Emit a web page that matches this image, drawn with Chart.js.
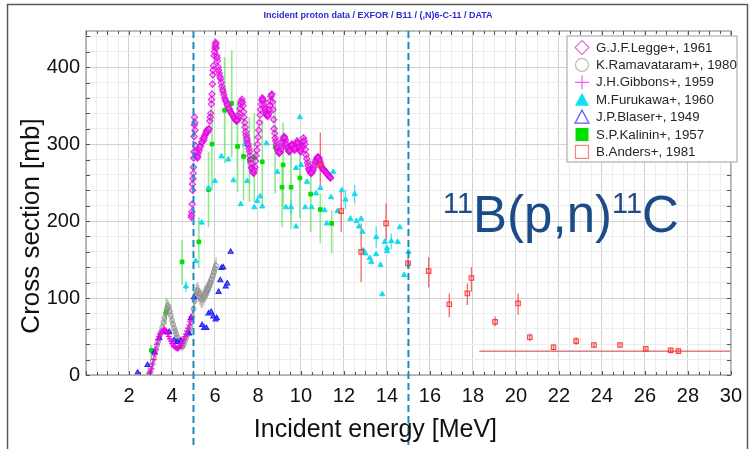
<!DOCTYPE html>
<html>
<head>
<meta charset="utf-8">
<script src="https://cdn.jsdelivr.net/npm/chart.js@4.4.1/dist/chart.umd.min.js"></script>
<style>
  html, body { margin: 0; padding: 0; background: #fff; }
  canvas { display: block; }
</style>
</head>
<body>
<canvas id="c" width="751" height="449" style="width:751px;height:449px"></canvas>
<script>
// ---- 11B(p,n)11C excitation function: EXFOR data sets ----

// G.J.F.Legge+, 1961
const leggeE = [4.90,4.92,4.94,4.96,4.98,5.00,5.02,5.03,5.04,5.05,5.07,5.10,5.14,5.18,5.22,5.27,5.32,5.38,5.43,5.48,5.52,5.57,5.62,5.67,5.72,5.76,5.80,5.83,5.86,5.88,5.90,5.93,5.96,6.00,6.03,6.06,6.08,6.11,6.15,6.20,6.26,6.32,6.38,6.45,6.52,6.60,6.68,6.76,6.84,6.92,7.00,7.08,7.14,7.20,7.25,7.30,7.35,7.40,7.45,7.50,7.55,7.60,7.65,7.70,7.75,7.80,7.86,7.92,7.98,8.04,8.10,8.15,8.20,8.25,8.30,8.35,8.40,8.45,8.50,8.55,8.60,8.65,8.70,8.75,8.80,8.86,8.92,8.98,9.04,9.10,9.16,9.22,9.28,9.34,9.40,9.46,9.52,9.58,9.64,9.70,9.76,9.82,9.88,9.94,10.00,10.06,10.12,10.18,10.24,10.30,10.36,10.42,10.48,10.54,10.60,10.66,10.72,10.78,10.84,10.90,10.96,11.02,11.08,11.14,11.20,11.26,11.32,11.38,
  4.91,4.95,4.99,5.01,5.06,5.12,5.20,5.30,5.40,5.50,5.60,5.70,5.78,5.84,5.91,5.98,6.01,6.04,6.10,6.17,6.23,6.29,6.35,6.42,6.49,6.56,6.64,6.72,6.80,6.88,6.96,7.04,7.11,7.17,7.22,7.28,7.33,7.38,7.43,7.48,7.53,7.58,7.62,7.67,7.72,7.78,7.83,7.89,7.95,8.01,8.07,8.12,8.18,8.23,8.28,8.33,8.38,8.43,8.48,8.53,8.58,8.62,8.68,8.73,8.78,8.83,8.89,8.95,9.01,9.07,9.13,9.19,9.25,9.31,9.37,9.43,9.49,9.55,9.61,9.67,9.73,9.79,9.85,9.91,9.97,10.03,10.09,10.15,10.21,10.27,10.33,10.39,10.45,10.51,10.57,10.63,10.69,10.75,10.81,10.87,10.93,10.99,11.05,11.11,11.17,11.23,11.29,11.35];
const leggeXS = [205,212,222,240,255,270,290,310,325,335,318,298,285,282,288,292,298,302,307,305,311,314,318,316,320,330,340,352,365,378,390,402,415,425,432,425,415,408,400,392,385,375,368,360,355,350,345,340,337,333,330,332,340,352,358,350,335,322,312,305,298,290,280,270,265,262,270,285,300,318,338,352,360,356,348,342,338,336,340,350,362,365,345,320,308,300,292,288,290,298,305,310,305,298,293,290,295,300,297,292,298,304,300,292,290,298,308,300,286,276,268,264,262,265,270,276,280,283,282,276,270,268,266,264,262,260,258,256,
  208,248,262,282,328,290,284,296,303,308,316,319,335,358,396,420,428,430,412,396,388,380,371,364,357,352,347,342,339,335,331,331,336,346,355,354,342,328,316,308,301,294,285,275,268,263,266,278,292,309,328,345,357,358,352,345,340,337,338,345,356,364,355,332,314,304,296,290,289,294,302,308,308,301,295,291,292,298,299,294,295,301,302,296,291,294,303,304,293,281,272,266,263,263,267,273,278,282,283,279,273,269,267,265,263,261,259,257];
const leggeErr = 5;

// K.Ramavataram+, 1980
const ramE = [2.95,3.00,3.05,3.10,3.15,3.20,3.25,3.30,3.35,3.40,3.45,3.50,3.55,3.60,3.65,3.70,3.75,3.80,3.85,3.90,3.95,4.00,4.05,4.10,4.15,4.20,4.25,4.30,4.35,4.40,4.45,4.50,4.55,4.60,4.65,4.70,4.75,4.80,4.85,4.90,4.95,5.00,5.05,5.10,5.15,5.20,5.25,5.30,5.35,5.40,5.45,5.50,5.55,5.60,5.65,5.70,5.75,5.80,5.85,5.90,5.95,6.00,6.05];
const ramXS = [3,8,13,18,23,28,33,38,43,47,52,57,62,68,74,80,86,90,88,83,77,71,66,61,57,53,49,45,42,39,37,37,40,44,48,52,55,58,62,68,76,86,96,104,108,110,106,102,99,98,101,104,106,108,111,114,117,120,124,129,134,138,142];
const ramErr = [2,3,3,4,4,5,5,5,6,6,6,6,7,7,7,7,8,8,8,7,7,7,6,6,6,6,5,5,5,5,5,5,5,5,6,6,6,6,6,7,8,9,10,11,11,11,11,11,11,11,11,11,11,11,11,11,11,11,11,11,11,11,11];

// J.H.Gibbons+, 1959
const gibbonsE = [2.95,3.00,3.05,3.10,3.15,3.20,3.25,3.30,3.35,3.40,3.45,3.50,3.55,3.60,3.65,3.70,3.75,3.80,3.85,3.90,3.95,4.00,4.05,4.10,4.15,4.20,4.25,4.30,4.35,4.40,4.45,4.50,4.55,4.60,4.65,4.70,4.75,4.80,4.85,4.90];
const gibbonsXS = [2,4,8,14,20,27,33,40,46,50,53,55,57,58,59,58,56,53,50,47,44,41,39,37,36,35,34,35,36,38,41,44,47,50,53,57,61,65,70,76];

// M.Furukawa+, 1960
const furukawaE = [4.65,5.10,5.38,5.70,6.00,6.30,6.62,6.86,7.20,7.40,7.50,7.83,7.97,8.10,8.20,8.40,8.90,9.30,9.54,9.77,9.77,9.95,10.00,10.20,10.28,10.50,10.70,10.90,11.10,11.20,11.40,11.50,11.70,11.90,12.07,12.30,12.50,12.58,12.70,12.80,12.86,12.90,13.00,13.20,13.27,13.50,13.50,13.70,13.78,13.90,14.00,14.00,14.20,14.50,14.60,14.80,15.00];
const furukawaXS = [115,148,198,243,252,284,280,253,222,300,252,218,226,232,219,301,264,218,218,193,269,335,273,218,251,218,236,243,214,197,231,264,213,240,228,203,235,200,193,203,186,162,158,152,147,157,179,143,105,173,165,161,174,173,192,130,160];
const furukawaErr = [7,0,0,0,0,0,0,0,0,0,0,0,0,0,0,0,0,0,9,0,0,0,0,0,0,0,0,0,0,0,0,0,0,0,13,0,12,0,0,0,0,0,0,0,0,0,14,0,0,0,0,0,10,0,0,0,0];

// J.P.Blaser+, 1949
const blaserE = [2.40,2.86,3.18,3.41,3.73,3.87,4.10,4.24,4.42,4.80,4.88,5.02,5.40,5.50,5.60,5.70,5.82,5.92,6.03,6.08,6.17,6.25,6.30,6.38,6.50,6.57,6.73];
const blaserXS = [3,13,30,48,56,56,45,43,45,54,74,101,65,61,61,80,82,76,72,74,108,123,139,140,115,119,160];

// S.P.Kalinin+, 1957
const kalininE  = [3.04,3.73,4.47,5.25,5.70,5.86,6.45,6.78,7.05,7.33,7.60,7.83,8.20,8.80,9.17,9.12,9.54,9.95,10.45,10.90,11.43];
const kalininXS = [32,82,147,173,241,300,344,353,297,284,279,283,277,296,273,244,244,256,235,215,197];
const kalininLo = [24,66,117,139,192,240,275,283,238,227,225,225,222,236,218,192,190,204,186,171,158];
const kalininHi = [39,100,175,205,290,348,413,422,357,340,335,340,332,355,328,275,298,310,280,236,214];

// B.Anders+, 1981
const andersE  = [10.90,11.87,12.80,13.96,14.98,15.94,16.90,17.74,17.93,19.03,20.10,20.65,21.75,22.80,23.63,24.84,26.04,27.20,27.56];
const andersXS = [273,213,160,197,145,135,92,106,126,69,93,49,36,44,39,39,34,32,31];
const andersLo = [245,186,121,175,138,114,75,91,108,63,78,44,32,39,35,36,32,29,29];
const andersHi = [315,240,197,223,152,153,106,119,140,76,106,54,40,49,42,42,36,35,33];
// wide-bin point: energy span and value
const andersWideE  = [18.3, 30];
const andersWideXS = [31, 31];

// axis ranges and marked energies
const xRange = [0, 30];
const yRange = [0, 447];
const xLabelStep = 2;
const yLabelStep = 100;
const markerEnergies = [5, 15];

const titleText = 'Incident proton data / EXFOR / B11 / (,N)6-C-11 / DATA';
const xTitle = 'Incident energy [MeV]';
const yTitle = 'Cross section [mb]';

const FONT = '"Liberation Sans", Arial, Helvetica, sans-serif';
const pts = (xs, ys) => xs.map((x, i) => ({ x, y: ys[i] }));

const datasets = [
  {
    label: 'G.J.F.Legge+, 1961', legendMark: 'diamond',
    data: pts(leggeE, leggeXS), pointStyle: 'rectRot', pointRadius: 3.1,
    borderColor: 'rgba(225,0,225,0.8)', backgroundColor: 'rgba(240,120,240,0.25)', pointBorderWidth: 1.2, order: 1,
    bars: { lo: leggeXS.map(v => v - leggeErr), hi: leggeXS.map(v => v + leggeErr), color: 'rgba(230,60,230,0.6)', width: 1 }
  },
  {
    label: 'K.Ramavataram+, 1980', legendMark: 'circle',
    data: pts(ramE, ramXS), pointStyle: 'circle', pointRadius: 2.4,
    borderColor: 'rgba(140,140,140,0.9)', backgroundColor: 'rgba(0,0,0,0)', pointBorderWidth: 1, order: 5,
    bars: { lo: ramXS.map((v, i) => v - ramErr[i]), hi: ramXS.map((v, i) => v + ramErr[i]), color: 'rgba(150,150,150,0.8)', width: 1 }
  },
  {
    label: 'J.H.Gibbons+, 1959', legendMark: 'plus',
    data: pts(gibbonsE, gibbonsXS), pointStyle: 'cross', pointRadius: 3,
    borderColor: 'rgba(235,0,235,0.9)', backgroundColor: 'rgba(0,0,0,0)', pointBorderWidth: 1.2, order: 2
  },
  {
    label: 'M.Furukawa+, 1960', legendMark: 'triFill',
    data: pts(furukawaE, furukawaXS), pointStyle: 'triangle', pointRadius: 3,
    borderColor: '#14dcef', backgroundColor: '#14dcef', pointBorderWidth: 1, order: 4,
    bars: { lo: furukawaXS.map((v, i) => v - furukawaErr[i]), hi: furukawaXS.map((v, i) => v + furukawaErr[i]), color: 'rgba(20,220,240,0.8)', width: 1.3 }
  },
  {
    label: 'J.P.Blaser+, 1949', legendMark: 'triOpen',
    data: pts(blaserE, blaserXS), pointStyle: 'triangle', pointRadius: 2.8,
    borderColor: '#2525f5', backgroundColor: 'rgba(50,50,250,0.7)', pointBorderWidth: 1.2, order: 3
  },
  {
    label: 'S.P.Kalinin+, 1957', legendMark: 'squareFill',
    data: pts(kalininE, kalininXS), pointStyle: 'rect', pointRadius: 2.6,
    borderColor: '#00dd00', backgroundColor: '#00dd00', pointBorderWidth: 1, order: 6,
    bars: { lo: kalininLo, hi: kalininHi, color: 'rgba(60,225,60,0.6)', width: 1.6 }
  },
  {
    label: 'B.Anders+, 1981', legendMark: 'squareOpen',
    data: pts(andersE, andersXS), pointStyle: 'rect', pointRadius: 3.2,
    borderColor: 'rgba(250,40,40,0.85)', backgroundColor: 'rgba(255,120,120,0.25)', pointBorderWidth: 1.1, order: 0,
    bars: { lo: andersLo, hi: andersHi, color: 'rgba(240,40,40,0.7)', width: 1.3 }
  },
  {
    label: '', legendMark: null, type: 'line',
    data: pts(andersWideE, andersWideXS), showLine: true, pointRadius: 0,
    borderColor: 'rgba(200,40,40,0.9)', borderWidth: 1, fill: false, order: 7
  }
];

function drawMark(ctx, kind, cx, cy) {
  ctx.save();
  ctx.lineWidth = 1.2;
  switch (kind) {
    case 'diamond':
      ctx.strokeStyle = '#e070e0';
      ctx.beginPath(); ctx.moveTo(cx, cy - 7); ctx.lineTo(cx + 7, cy); ctx.lineTo(cx, cy + 7); ctx.lineTo(cx - 7, cy); ctx.closePath(); ctx.stroke();
      break;
    case 'circle':
      ctx.strokeStyle = '#bbbbbb';
      ctx.beginPath(); ctx.arc(cx, cy, 6.5, 0, Math.PI * 2); ctx.stroke();
      break;
    case 'plus':
      ctx.strokeStyle = '#f060f0';
      ctx.beginPath(); ctx.moveTo(cx - 7, cy); ctx.lineTo(cx + 7, cy); ctx.moveTo(cx, cy - 7); ctx.lineTo(cx, cy + 7); ctx.stroke();
      break;
    case 'triFill':
      ctx.fillStyle = '#10e0f0';
      ctx.beginPath(); ctx.moveTo(cx, cy - 7); ctx.lineTo(cx + 7, cy + 6); ctx.lineTo(cx - 7, cy + 6); ctx.closePath(); ctx.fill();
      break;
    case 'triOpen':
      ctx.strokeStyle = '#5a5aff';
      ctx.beginPath(); ctx.moveTo(cx, cy - 7); ctx.lineTo(cx + 7, cy + 6); ctx.lineTo(cx - 7, cy + 6); ctx.closePath(); ctx.stroke();
      break;
    case 'squareFill':
      ctx.fillStyle = '#00e000';
      ctx.fillRect(cx - 6.5, cy - 6.5, 13, 13);
      break;
    case 'squareOpen':
      ctx.strokeStyle = '#ff8080';
      ctx.strokeRect(cx - 6.5, cy - 6.5, 13, 13);
      break;
  }
  ctx.restore();
}

const overlay = {
  id: 'overlay',
  beforeDatasetsDraw(chart) {
    const { ctx, chartArea: a, scales: { x, y } } = chart;
    ctx.save();
    ctx.beginPath(); ctx.rect(a.left, a.top, a.right - a.left, a.bottom - a.top); ctx.clip();
    chart.data.datasets.forEach(ds => {
      if (!ds.bars) return;
      ctx.strokeStyle = ds.bars.color;
      ctx.lineWidth = ds.bars.width || 1;
      ds.data.forEach((p, i) => {
        const lo = ds.bars.lo[i], hi = ds.bars.hi[i];
        if (lo == null || hi == null || lo === hi) return;
        const px = x.getPixelForValue(p.x);
        ctx.beginPath();
        ctx.moveTo(px, y.getPixelForValue(lo));
        ctx.lineTo(px, y.getPixelForValue(hi));
        ctx.stroke();
      });
    });
    ctx.restore();
  },
  afterDraw(chart) {
    const { ctx, chartArea: a, scales: { x, y } } = chart;
    ctx.save();

    // plot frame
    ctx.strokeStyle = '#a8a8a8';
    ctx.lineWidth = 1.5;
    ctx.strokeRect(a.left, a.top, a.right - a.left, a.bottom - a.top);

    // inward tick marks on all four sides
    ctx.strokeStyle = '#555';
    ctx.lineWidth = 1;
    for (let v = xRange[0]; v <= xRange[1] + 1e-9; v += 0.5) {
      const px = Math.round(x.getPixelForValue(v)) + 0.5;
      const len = (v % 1 === 0) ? 4 : 3;
      ctx.beginPath();
      ctx.moveTo(px, a.bottom); ctx.lineTo(px, a.bottom - len);
      ctx.moveTo(px, a.top); ctx.lineTo(px, a.top + len);
      ctx.stroke();
    }
    for (let v = yRange[0]; v <= yRange[1]; v += 20) {
      const py = Math.round(y.getPixelForValue(v)) + 0.5;
      ctx.beginPath();
      ctx.moveTo(a.left, py); ctx.lineTo(a.left + 4, py);
      ctx.moveTo(a.right, py); ctx.lineTo(a.right - 4, py);
      ctx.stroke();
    }

    // dashed markers at selected energies
    ctx.strokeStyle = '#1c8bc0';
    ctx.lineWidth = 2;
    ctx.setLineDash([7, 4]);
    markerEnergies.forEach(e => {
      const px = x.getPixelForValue(e);
      ctx.beginPath(); ctx.moveTo(px, a.top); ctx.lineTo(px, chart.height); ctx.stroke();
    });
    ctx.setLineDash([]);

    // header line
    ctx.fillStyle = '#2b2bd0';
    ctx.font = 'bold 9px ' + FONT;
    ctx.textAlign = 'center';
    ctx.textBaseline = 'middle';
    ctx.fillText(titleText, 378, 16);

    // axis titles
    ctx.fillStyle = '#111';
    ctx.font = '25px ' + FONT;
    ctx.textAlign = 'center';
    ctx.textBaseline = 'middle';
    ctx.fillText(xTitle, (a.left + a.right) / 2 - 33, 430);
    ctx.save();
    ctx.translate(32, 226);
    ctx.rotate(-Math.PI / 2);
    ctx.font = '26px ' + FONT;
    ctx.fillText(yTitle, 0, 0);
    ctx.restore();

    // reaction label
    ctx.fillStyle = '#1b4b88';
    ctx.textAlign = 'left';
    ctx.textBaseline = 'alphabetic';
    let cx = 443;
    const base = 232;
    const parts = [['11', true], ['B(p,n)', false], ['11', true], ['C', false]];
    parts.forEach(([t, sup]) => {
      ctx.font = (sup ? '29px ' : '51px ') + FONT;
      ctx.fillText(t, cx, sup ? base - 19 : base);
      cx += ctx.measureText(t).width;
    });

    // legend
    const lx = 567, ly = 36, lw = 170, lh = 126;
    ctx.fillStyle = '#fff';
    ctx.fillRect(lx, ly, lw, lh);
    ctx.strokeStyle = '#b0b0b0';
    ctx.lineWidth = 1.2;
    ctx.strokeRect(lx, ly, lw, lh);
    ctx.font = '13.3px ' + FONT;
    ctx.textBaseline = 'middle';
    ctx.textAlign = 'left';
    let row = 0;
    chart.data.datasets.forEach(ds => {
      if (!ds.legendMark) return;
      const ry = 47.5 + row * 17.4;
      drawMark(ctx, ds.legendMark, 582, ry);
      ctx.fillStyle = '#262626';
      ctx.fillText(ds.label, 596, ry + 0.5);
      row++;
    });

    // outer frame
    ctx.strokeStyle = '#5a5a5a';
    ctx.lineWidth = 1.5;
    ctx.beginPath();
    ctx.moveTo(7.5, chart.height + 2); ctx.lineTo(7.5, 4.5); ctx.lineTo(747.5, 4.5); ctx.lineTo(747.5, chart.height + 2);
    ctx.stroke();

    ctx.restore();
  }
};

new Chart(document.getElementById('c'), {
  type: 'scatter',
  data: { datasets },
  options: {
    responsive: false,
    animation: false,
    events: [],
    layout: { padding: { left: 0, right: 14, top: 31, bottom: 0 } },
    plugins: { legend: { display: false }, tooltip: { enabled: false }, title: { display: false } },
    elements: { line: { tension: 0 } },
    scales: {
      x: {
        type: 'linear', min: xRange[0], max: xRange[1],
        afterFit(s) { s.height = 74; },
        border: { display: false },
        grid: {
          drawTicks: false,
          color: c => (c.tick && c.tick.value % xLabelStep === 0) ? '#d2d2d2' : '#ededed',
          lineWidth: 1
        },
        ticks: {
          stepSize: 0.5, autoSkip: false, maxRotation: 0, includeBounds: false, padding: 9,
          color: '#111', font: { family: FONT, size: 20 },
          callback: v => (v !== 0 && v % xLabelStep === 0) ? String(v) : ''
        }
      },
      y: {
        type: 'linear', min: yRange[0], max: yRange[1],
        afterFit(s) { s.width = 86; },
        border: { display: false },
        grid: {
          drawTicks: false,
          color: c => (c.tick && c.tick.value % yLabelStep === 0) ? '#d2d2d2' : '#ededed',
          lineWidth: 1
        },
        ticks: {
          stepSize: 20, autoSkip: false, includeBounds: false, padding: 6,
          color: '#111', font: { family: FONT, size: 20 },
          callback: v => (v % yLabelStep === 0) ? String(v) : ''
        }
      }
    }
  },
  plugins: [overlay]
});
</script>
</body>
</html>
